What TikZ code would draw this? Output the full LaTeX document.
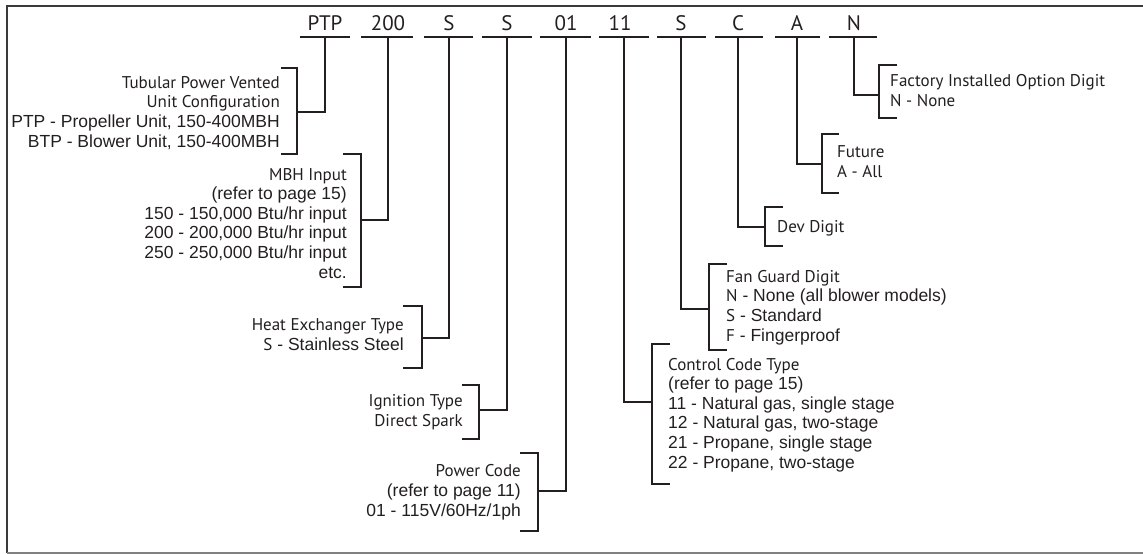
\documentclass[tikz,border=0pt]{standalone}
\usepackage{fontspec}
\setmainfont{PT Sans}
\newfontfamily\arialfam{Liberation Sans}
\newcommand\ar[1]{{\arialfam\fontsize{17.5}{19.6}\selectfont #1}}
\definecolor{ink}{HTML}{231F20}
\definecolor{frame}{HTML}{3A3A3A}
\definecolor{framelow}{HTML}{808080}
\begin{document}
\begin{tikzpicture}[x=1pt,y=-1pt,
  ln/.style={line width=2pt, draw=ink},
  code/.style={font=\fontsize{21}{24}\selectfont, text=ink, anchor=base, inner sep=0pt},
  lbl/.style={font=\fontsize{17}{19.6}\selectfont, text=ink, inner sep=0pt},
  lblL/.style={lbl, align=right, anchor=base east},
  lblR/.style={lbl, align=left, anchor=base west}]
\useasboundingbox (0,0) rectangle (1143,554);
% frame
\draw[line width=2.5pt, frame] (1150,6) -- (7,6) -- (7,553);
\draw[line width=2pt, framelow] (7,553) -- (1150,553);

% code letters
\node[code] (c1) at (325,30) {PTP};
\node[code] (c2) at (388,30) {200};
\node[code] (c3) at (449,30) {S};
\node[code] (c4) at (507,30) {S};
\node[code] (c5) at (566,30) {01};
\node[code] (c6) at (620,30) {11};
\node[code] (c7) at (681,30) {S};
\node[code] (c8) at (738,30) {C};
\node[code] (c9) at (797,30) {A};
\node[code] (c10) at (854,30) {N};

% underlines
\draw[ln] (300,37) -- (350,37);
\draw[ln] (361,37) -- (413,37);
\draw[ln] (424,37) -- (473,37);
\draw[ln] (482,37) -- (532,37);
\draw[ln] (540,37) -- (591,37);
\draw[ln] (599,37) -- (649,37);
\draw[ln] (657,37) -- (706,37);
\draw[ln] (715,37) -- (763,37);
\draw[ln] (775,37) -- (820,37);
\draw[ln] (829,37) -- (877,37);

\coordinate (u1) at (325,37);
\coordinate (u2) at (388,37);
\coordinate (u3) at (449,37);
\coordinate (u4) at (507,37);
\coordinate (u5) at (566,37);
\coordinate (u6) at (624,37);
\coordinate (u7) at (681,37);
\coordinate (u8) at (738,37);
\coordinate (u9) at (797,37);
\coordinate (u10) at (854,37);

% bracket midpoints
\coordinate (m1) at (297,112);
\coordinate (m2) at (361,220);
\coordinate (m3) at (422,338);
\coordinate (m4) at (479,410);
\coordinate (m5) at (538,491);
\coordinate (m6) at (652,402);
\coordinate (m7) at (709,309);
\coordinate (m8) at (765,227);
\coordinate (m9) at (822,164);
\coordinate (m10) at (879,95);

% connectors
\draw[ln] (u1) |- (m1);
\draw[ln] (u2) |- (m2);
\draw[ln] (u3) |- (m3);
\draw[ln] (u4) |- (m4);
\draw[ln] (u5) |- (m5);
\draw[ln] (u6) |- (m6);
\draw[ln] (u7) |- (m7);
\draw[ln] (u8) |- (m8);
\draw[ln] (u9) |- (m9);
\draw[ln] (u10) |- (m10);

% brackets (left side, open to the left)
\draw[ln] (281,68) -- (297,68) -- (297,154) -- (281,154);
\draw[ln] (343,154) -- (361,154) -- (361,287) -- (343,287);
\draw[ln] (403,306) -- (422,306) -- (422,368) -- (403,368);
\draw[ln] (462,385) -- (479,385) -- (479,439) -- (462,439);
\draw[ln] (520,453) -- (538,453) -- (538,531) -- (520,531);
% brackets (right side, open to the right)
\draw[ln] (670,344) -- (652,344) -- (652,484) -- (670,484);
\draw[ln] (727,264) -- (709,264) -- (709,350) -- (727,350);
\draw[ln] (783,207) -- (765,207) -- (765,246) -- (783,246);
\draw[ln] (839,134) -- (822,134) -- (822,193) -- (839,193);
\draw[ln] (897,65) -- (879,65) -- (879,118) -- (897,118);

% labels (anchored at the baseline of their last line)
\node[lblL] (l1) at (280,147) {Tubular Power Vented\\Unit Configuration\\\ar{PTP - Propeller Unit, 150-400MBH}\\\ar{BTP - Blower Unit, 150-400MBH}};
\node[lblL] (l2) at (347,278) {MBH Input\\\ar{(refer to page 15)}\\\ar{150 - 150,000 Btu/hr input}\\\ar{200 - 200,000 Btu/hr input}\\\ar{250 - 250,000 Btu/hr input}\\\ar{etc.}};
\node[lblL] (l3) at (404,350) {Heat Exchanger Type\\S\ar{ - Stainless Steel}};
\node[lblL] (l4) at (463,426) {Ignition Type\\Direct Spark};
\node[lblL] (l5) at (521,516) {Power Code\\\ar{(refer to page 11)}\\\ar{01 - 115V/60Hz/1ph}};
\node[lblR] (l6) at (668,468) {Control Code Type\\\ar{(refer to page 15)}\\\ar{11 - Natural gas, single stage}\\\ar{12 - Natural gas, two-stage}\\\ar{21 - Propane, single stage}\\\ar{22 - Propane, two-stage}};
\node[lblR] (l7) at (726,341) {Fan Guard Digit\\N\ar{ - None (all blower models)}\\S\ar{ - Standard}\\F\ar{ - Fingerproof}};
\node[lblR] (l8) at (777,232) {Dev Digit};
\node[lblR] (l9) at (837,177) {Future\\A - All};
\node[lblR] (l10) at (890,106) {Factory Installed Option Digit\\N - None};
\end{tikzpicture}
\end{document}
